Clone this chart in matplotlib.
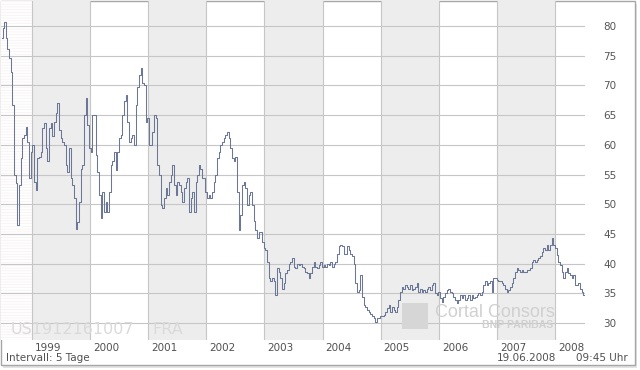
import matplotlib
matplotlib.use("Agg")
from matplotlib import pyplot as plt
from matplotlib.patches import Rectangle
from matplotlib.transforms import ScaledTranslation
import numpy as np

# Coca-Cola (US1912161007), Frankfurt, price in EUR, mid 1998 - June 2008
prices = [
    77.9, 79.6, 80.7, 77.9, 76.2, 74.6, 72.3, 66.7, 54.9, 53.5,
    46.5, 53.2, 57.7, 61.1, 61.6, 63.0, 60.5, 54.4, 58.8, 60.0,
    53.8, 52.4, 57.7, 58.0, 58.8, 62.8, 63.6, 59.4, 57.2, 62.8,
    63.6, 61.4, 63.9, 65.3, 67.0, 62.5, 61.1, 60.5, 60.0, 56.6,
    55.5, 59.4, 54.4, 53.2, 51.0, 45.9, 47.0, 50.4, 56.0, 56.6,
    65.0, 67.8, 63.3, 59.4, 58.8, 65.0,
    65.0, 58.3, 55.5, 51.5, 47.6, 52.1, 48.7, 50.4, 48.7, 52.1,
    56.6, 57.2, 58.8, 55.8, 58.8, 61.1, 61.6, 65.0, 67.3, 68.4,
    63.9, 60.5, 61.1, 61.6, 60.0, 66.7, 69.8, 71.8, 72.9, 70.4,
    70.1, 63.9, 64.5, 60.0, 60.0, 62.2, 65.0, 64.5, 56.6, 54.9,
    49.9, 49.3, 51.0, 52.7, 51.5, 53.8, 54.9, 56.6, 53.2, 51.5,
    53.8, 53.2, 52.1, 50.4, 52.7, 53.8, 54.4, 48.7, 51.0, 52.1,
    48.7, 53.8, 54.9, 56.6,
    56.0, 54.4, 54.4, 52.1, 51.0, 51.5, 51.0, 52.1, 53.8, 54.9,
    57.7, 58.8, 60.0, 60.5, 61.1, 61.6, 62.2, 61.1, 59.4, 57.7,
    57.2, 58.0, 52.1, 45.7, 48.2, 53.2, 53.8, 52.7, 49.9, 51.5,
    52.1, 49.9, 47.1, 45.7, 44.3, 45.4, 45.4, 43.7, 42.6, 42.3,
    40.3, 37.5, 37.0, 37.5, 37.0, 34.7, 39.2, 38.6, 37.5, 35.8,
    36.7, 38.4, 38.9, 40.0, 40.3, 40.9, 39.5, 39.2, 40.0, 39.8,
    40.0, 39.5, 39.2, 38.6, 38.4, 37.5, 38.4, 39.5, 40.3, 39.5,
    39.2, 39.8, 40.3, 39.5, 39.8, 39.5, 40.0, 39.8, 40.3, 39.5,
    40.0, 40.3, 41.7, 42.9, 43.1, 42.9, 41.7, 41.7, 42.9, 42.3,
    41.7, 41.2, 40.0, 36.7, 35.3, 35.6, 38.1, 34.4, 33.0, 32.7,
    32.2, 31.9, 31.6, 31.1, 30.8, 30.2, 30.8, 30.8, 31.1, 31.1,
    31.4, 31.9,
    32.5, 33.0, 31.9, 32.7, 32.2, 31.9, 32.7, 33.9, 35.3, 36.1,
    35.8, 36.4, 36.1, 35.8, 36.4, 35.6, 35.8, 36.1, 36.7, 35.3,
    35.8, 35.3, 35.6, 35.3, 35.8, 36.1, 35.6, 36.4, 36.7, 35.0,
    34.7, 35.3, 34.2, 33.6, 34.4, 35.0, 35.6, 35.8, 35.3, 35.0,
    34.4, 33.9, 33.3, 33.9, 34.7, 34.2, 34.7, 33.9, 34.2, 34.7,
    33.9, 34.7, 34.2, 34.4, 34.7, 35.0, 34.7, 35.3,
    36.4, 37.0, 36.4, 36.7, 37.0, 35.3, 37.5, 37.5, 37.2, 37.0,
    37.0, 36.7, 36.4, 35.8, 35.3, 35.6, 36.1, 36.7, 37.5, 38.6,
    39.2, 38.9, 38.6, 38.9, 38.6, 38.6, 38.9, 38.9, 39.2, 40.3,
    40.6, 40.3, 40.6, 40.9, 41.2, 42.0, 42.6, 42.3, 43.1, 42.3,
    43.1, 44.3, 43.1, 42.6, 41.4, 40.3, 39.8, 38.6, 37.5, 38.6,
    39.2, 38.4, 38.1, 37.5, 38.1, 36.4, 36.4, 36.7, 35.8, 35.3,
    34.7,
]
first_date = 1998.478
last_date = 2008.499
years = [1999, 2000, 2001, 2002, 2003, 2004, 2005, 2006, 2007, 2008]
shaded_years = [1999, 2001, 2003, 2005, 2007]
price_ticks = [30, 35, 40, 45, 50, 55, 60, 65, 70, 75, 80]

W, H = 640, 370
fig = plt.figure(figsize=(W / 100, H / 100), dpi=100)
fig.patch.set_facecolor("white")

def fx(px):
    return px / W

def fy(py):
    return 1 - py / H

# frame with a little shadow
fig.patches.append(Rectangle((fx(3), fy(368)), fx(634), 364 / H, transform=fig.transFigure,
                             facecolor="#e4e4e4", edgecolor="none", zorder=-3))
fig.patches.append(Rectangle((fx(0.5), fy(364.5)), fx(634), 364 / H, transform=fig.transFigure,
                             facecolor="white", edgecolor="#a6a6a6", lw=1, zorder=-2))

ax = fig.add_axes([fx(1), fy(340), fx(584), 339 / H])
ax.set_zorder(1)
ax.set_xlim(1998.4665, 2008.516)
ax.set_ylim(27.14, 84.21)
ax.patch.set_alpha(0)
for s in ax.spines.values():
    s.set_visible(False)

plt.rcParams['hatch.linewidth'] = 0.5
ax.axvspan(1998.4665, 1999, facecolor="white", edgecolor="#f8f0f0", hatch="------", lw=0, zorder=0)
for yr in shaded_years:
    ax.axvspan(yr, yr + 1, facecolor="#ededed", edgecolor="none", zorder=0)

for p in price_ticks:
    ax.axhline(p, color="#c6c6c6", lw=0.8, zorder=1)
for yr in years:
    ax.axvline(yr, color="#c6c6c6", lw=0.8, zorder=1)

dates = np.linspace(first_date, last_date, len(prices))
ax.plot(dates, prices, drawstyle="steps-mid", color="#6a7796", lw=0.75, zorder=3)

ax.set_xticks([])
ax.yaxis.tick_right()
ax.set_yticks(price_ticks)
ax.set_yticklabels([str(p) for p in price_ticks])
ax.tick_params(axis="y", length=0, pad=13, labelsize=7.5, labelcolor="#555555")

off = ScaledTranslation(3 / 100, -8 / 100, fig.dpi_scale_trans)
for yr in years:
    ax.text(yr, 0, str(yr), transform=ax.get_xaxis_transform() + off,
            ha="left", va="center", fontsize=7.5, color="#505050")

# watermarks, above the bands and grid but under the price line
tf = fig.transFigure
ax.text(fx(11), fy(330), "US1912161007", transform=tf, fontsize=11.5, color="#dadada",
        va="center", ha="left", zorder=2, clip_on=False)
ax.text(fx(152), fy(330), "FRA", transform=tf, fontsize=11.5, color="#dadada",
        va="center", ha="left", zorder=2, clip_on=False)
ax.add_patch(Rectangle((fx(402), fy(329)), fx(26), 26 / H, transform=tf,
                       facecolor="#d6d6d6", edgecolor="none", zorder=2, clip_on=False))
ax.text(fx(435), fy(317), "Cortal Consors", transform=tf, fontsize=13, color="#d0d0d0",
        family="Liberation Sans", va="baseline", ha="left", zorder=2, clip_on=False)
ax.text(fx(553), fy(325.5), "BNP PARIBAS", transform=tf, fontsize=7.5, color="#d0d0d0",
        weight="bold", family="Liberation Sans", va="center", ha="right", zorder=2, clip_on=False)

fig.text(fx(6), fy(358), "Intervall: 5 Tage", fontsize=7.5, color="#505050", va="center", ha="left")
fig.text(fx(497), fy(358), "19.06.2008", fontsize=7.5, color="#505050", va="center", ha="left")
fig.text(fx(628), fy(358), "09:45 Uhr", fontsize=7.5, color="#505050", va="center", ha="right")

fig.savefig("out.png", dpi=100)
